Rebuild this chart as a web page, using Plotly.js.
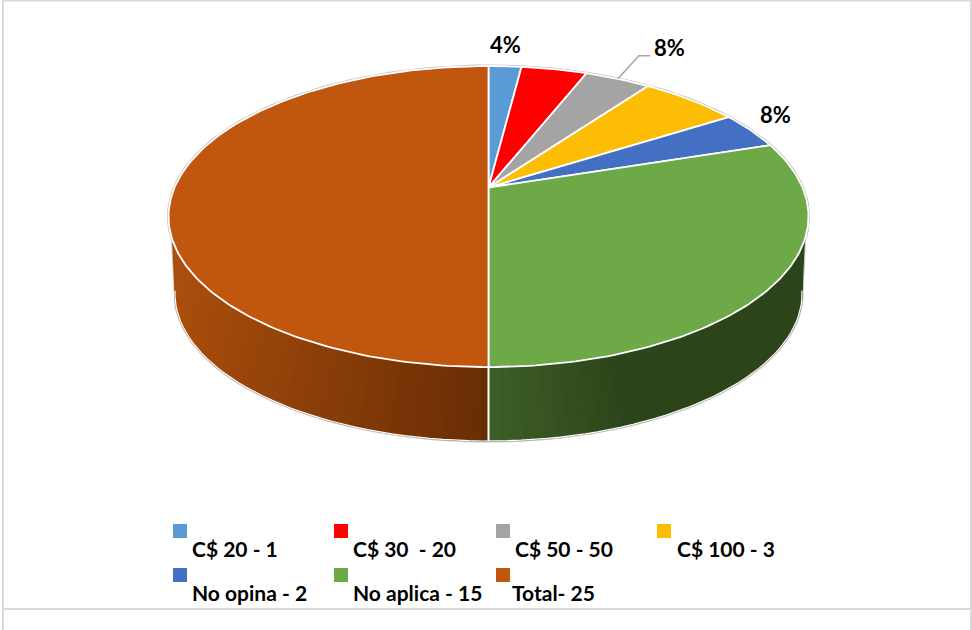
<!DOCTYPE html>
<html>
<head>
<meta charset="utf-8">
<script src="https://cdn.plot.ly/plotly-3.0.0.min.js"></script>
<style>html,body{margin:0;padding:0;background:#fff}#chart{width:972px;height:630px}</style>
</head>
<body>
<div id="chart"></div>
<script>
// ---- chart data ----
const categories = ['C$ 20 - 1','C$ 30  - 20','C$ 50 - 50','C$ 100 - 3','No opina - 2','No aplica - 15','Total- 25'];
const values = [1, 2, 2, 3, 2, 15, 25];
const colors = ['#5B9BD5','#FF0000','#A4A4A4','#FCBD04','#4370C2','#6DA947','#C1570E'];
const percentLabels = ['4%','8%','8%'];

// ---- projection of the tilted disc into the page ----
const cx = 488.5, cyTop = 187.5, K = 0.1927, B = -108.8, A = 314;
const midY = 216.5, shrink = 0.98, drop = 77;
const deg = Math.PI/180;
function topPt(t){ const u=Math.sin(t), v=Math.cos(t), w=1+K*v; return [cx+A*u/w,(cyTop+B*v)/w]; }
function bottomPt(t){ const p=topPt(t); return [cx+shrink*(p[0]-cx), midY+shrink*(p[1]-midY)+drop]; }
function arc(f,a0,a1,stepDeg){
  const n=Math.max(1,Math.ceil(Math.abs(a1-a0)/(stepDeg*deg))), out=[];
  for(let i=0;i<=n;i++) out.push(f(a0+(a1-a0)*i/n));
  return out;
}
const total = values.reduce((s,v)=>s+v,0);
const edges=[0]; values.forEach(v=>edges.push(edges[edges.length-1]+v/total*2*Math.PI));

function lerp(a,b,f){ return a.map((x,i)=>Math.round(x+(b[i]-x)*f)); }
function rgb(c){ return 'rgb('+c.join(',')+')'; }
function sideColor(idx,x){
  if(idx===6){ const f=Math.min(1,Math.max(0,(x-172)/(488-172))); return rgb(lerp([172,79,12],[104,44,5],f)); }
  const f=Math.min(1,Math.max(0,(x-488)/(615-488))); return rgb(lerp([62,95,39],[44,68,26],f));
}
const traces=[];
function path(pts,extra){
  traces.push(Object.assign({type:'scatter',mode:'lines',x:pts.map(p=>p[0]),y:pts.map(p=>p[1]),hoverinfo:'skip',showlegend:false},extra));
}
// where the wall's straight outer edge meets the top and bottom rims
const wallTopR=110*deg, wallBotR=100*deg, wallTopL=250*deg, wallBotL=260*deg;

// outer grey silhouette
path(arc(topPt,wallTopL-2*Math.PI,wallTopR,2),{line:{color:'#BDBDBD',width:3}});
path([topPt(wallTopL)].concat(arc(bottomPt,wallBotL,wallBotR,2)).concat([topPt(wallTopR)]),{line:{color:'#BDBDBD',width:3}});

// side wall strips of the two front slices
function wallStrips(idx,t0,t1,b0,b1,stepDeg){
  const n=Math.ceil(Math.abs(t1-t0)/(stepDeg*deg));
  for(let i=0;i<n;i++){
    const f0=i/n, f1=(i+1)/n;
    const a=topPt(t0+(t1-t0)*f0), b=topPt(t0+(t1-t0)*f1);
    const c=bottomPt(b0+(b1-b0)*f1), d=bottomPt(b0+(b1-b0)*f0);
    const col=sideColor(idx,(a[0]+b[0])/2);
    path([a,b,c,d,a],{fill:'toself',fillcolor:col,line:{color:col,width:1}});
  }
}
wallStrips(5,wallTopR,edges[6],wallBotR,edges[6],1.5);
wallStrips(6,edges[6],wallTopL,edges[6],wallBotL,1.5);

// white rim under the wall and divider between the walls
path(arc(bottomPt,wallBotR,wallBotL,2),{line:{color:'#FFFFFF',width:1.2}});
path([topPt(edges[6]),bottomPt(edges[6])],{line:{color:'#FFFFFF',width:2}});

// top face: one closed slice per value
values.forEach((v,i)=>{
  const pts=[[cx,cyTop]].concat(arc(topPt,edges[i],edges[i+1],1)).concat([[cx,cyTop]]);
  path(pts,{name:categories[i],fill:'toself',fillcolor:colors[i],line:{color:'#FFFFFF',width:1.8}});
});

// leader line from the grey slice to its label
const greyMid=(edges[2]+edges[3])/2, gp=topPt(greyMid);
path([gp,[gp[0]+21,55.7],[650,55.7]],{line:{color:'#A6A6A6',width:1.5}});

// legend swatches
const legendX=[180,341,503,664], legendRowY=[531,575];
const swatchX=categories.map((c,i)=>legendX[i%4]), swatchY=categories.map((c,i)=>legendRowY[Math.floor(i/4)]);
traces.push({type:'scatter',mode:'markers',x:swatchX,y:swatchY,hoverinfo:'skip',showlegend:false,
  marker:{symbol:'square',size:14,color:colors,line:{width:0}}});

const font=(s)=>({family:'Lato, "Open Sans", sans-serif',size:s,color:'#000000',weight:700});
const textX=[192,353,515,677,192,353,512];
const textY=[548,548,548,548,592,592,592];
const annotations=categories.map((c,i)=>({x:textX[i],y:textY[i],xref:'x',yref:'y',xanchor:'left',yanchor:'middle',text:'<b>'+c+'</b>',showarrow:false,font:font(21),xshift:-2}));
[[505.5,44],[669,47],[775.5,114]].forEach((p,i)=>annotations.push({x:p[0],y:p[1],xref:'x',yref:'y',text:'<b>'+percentLabels[i]+'</b>',showarrow:false,font:font(22)}));

const frame=(x0,y0,x1,y1)=>({type:'line',xref:'x',yref:'y',x0,y0,x1,y1,line:{color:'#D9D9D9',width:2},layer:'below'});
const layout={
  width:972,height:630,margin:{l:0,r:0,t:0,b:0},paper_bgcolor:'#FFFFFF',plot_bgcolor:'#FFFFFF',showlegend:false,
  xaxis:{range:[0,972],visible:false,fixedrange:true},
  yaxis:{range:[630,0],visible:false,fixedrange:true},
  annotations,
  shapes:[frame(3,0.5,971,0.5),frame(3,0,3,630),frame(971,0,971,630),frame(3,609,971,609)]
};
Plotly.newPlot('chart',traces,layout,{staticPlot:true,displayModeBar:false});
</script>
</body>
</html>
